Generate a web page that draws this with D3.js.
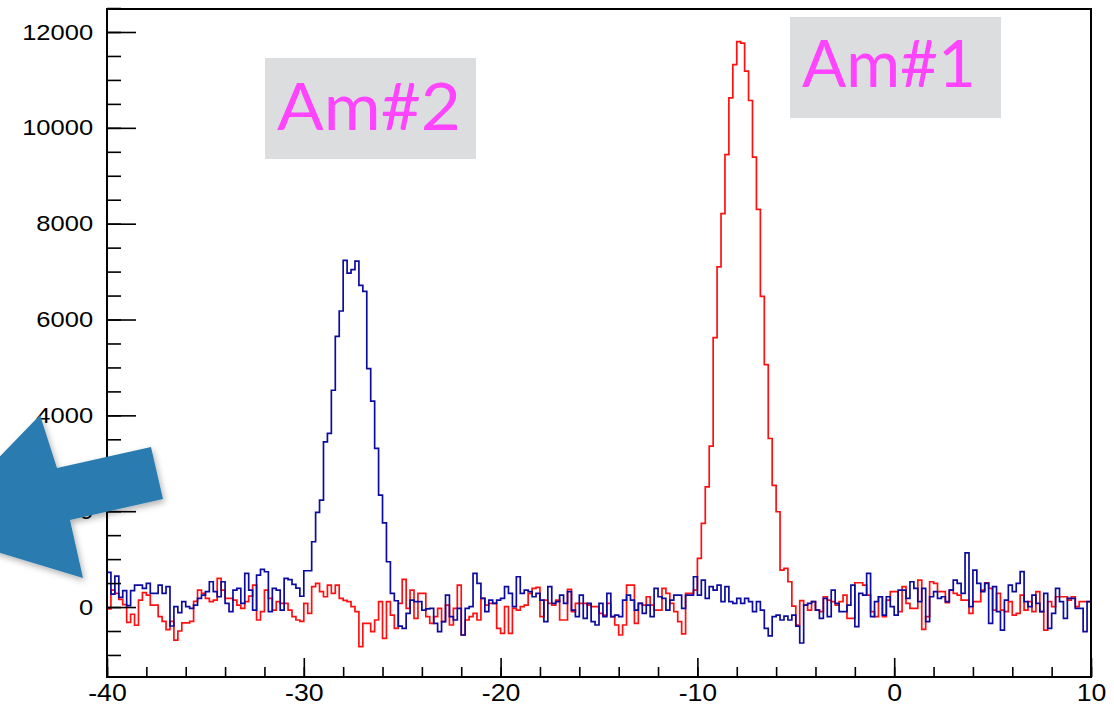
<!DOCTYPE html>
<html>
<head>
<meta charset="utf-8">
<script src="https://cdn.jsdelivr.net/npm/d3@7"></script>
<style>
  body { margin: 0; background: #fff; }
  svg { display: block; }
</style>
</head>
<body>
<div id="chart"></div>
<script>
// histogram contents, 250 bins from -40 to 10 (bin width 0.2)
const blueCounts = [
  723, 271, 646, 202, 341, 28, 341, 459, 459, 389,
  493, 285, 285, 459, 285, 424, -396, 7, -118, 111,
  7, -28, 42, 181, 250, 320, 528, 320, 215, 528,
  76, -97, 354, 389, 76, 702, 354, -63, 667, 785,
  736, -97, 389, 354, -63, 598, 570, 475, 395, 225,
  757, 757, 1362, 1975, 2231, 3447, 3622, 4524, 5650, 6178,
  7235, 6970, 7041, 7220, 6714, 6589, 4977, 4295, 3309, 2335,
  1758, 945, 286, 131, -400, -445, -132, 146, 111, 111,
  -63, -40, -28, -341, -514, -306, 250, -202, -271, -28,
  -584, -28, 7, 702, 493, 181, -97, 146, 76, 146,
  181, 424, 285, 7, 632, 285, 354, 320, 215, 285,
  146, -306, 424, 76, 111, 250, 76, 320, -63, -202,
  250, -236, 76, -306, -375, 76, -202, 285, -202, -167,
  -202, 146, 250, 146, -63, 76, -132, 42, -202, 389,
  215, 181, -63, 146, 250, 250, -28, 250, 250, 632,
  250, 563, 181, 424, 354, 459, 111, 424, 111, 76,
  181, 76, 181, 111, -97, 111, -63, -445, -600, -202,
  -167, -271, -188, -271, -167, -400, -750, 42, 76, 111,
  -63, -236, 181, -202, 354, 76, -97, -97, 42, 459,
  -410, 285, 250, 702, -202, 111, 215, -167, 215, 7,
  -167, 354, 354, 181, 528, 389, 111, 389, -306, 215,
  320, 181, 215, 111, 354, 563, 493, 285, 1132, 7,
  771, 493, 320, 493, -341, 424, -97, -480, 146, 459,
  320, 493, 737, 111, 7, 250, 76, -97, 285, -445,
  -132, 389, 111, -236, 181, 181, -28, -28, -514, 111
];

const redCounts = [
  -40, 354, 285, 160, 50, -320, -150, -380, 146, 300,
  250, 40, 42, -200, -300, -470, -300, -690, -500, -330,
  -330, -300, 120, 354, 285, 181, 111, 146, 600, 354,
  181, 181, 146, 42, -28, 111, 229, 459, -271, -97,
  354, 181, -63, 111, 76, 76, -63, -202, -271, -300,
  76, -132, 424, 493, 320, 215, 459, 285, 459, 181,
  140, 111, 7, -97, -827, -341, -341, -514, -271, 111,
  -653, 111, -167, -445, 76, 577, -28, 354, -236, 285,
  285, -202, -341, -202, -28, -306, 42, -375, -28, 459,
  -584, -271, -202, -132, -271, 181, 42, 76, 76, -445,
  -549, 7, -549, -28, -63, 7, 42, 285, 389, 410,
  -202, 146, 76, 42, 146, -271, -271, 368, -97, 76,
  76, 76, 42, 7, 7, -132, -167, 76, -202, -375,
  -584, -375, 459, 459, -341, 76, 42, 215, 42, -63,
  -63, 389, 285, 76, -97, -306, -560, 285, 285, 354,
  1014, 1744, 2509, 3357, 5623, 7097, 8208, 9439, 10627, 11321,
  11801, 11766, 11182, 10571, 9389, 8298, 6484, 5059, 3517, 2537,
  1988, 772, 807, 528, 21, -375, 132, 42, -63, 111,
  -63, -97, 215, 146, 111, 42, 111, 250, -236, -236,
  507, 507, 459, 250, -97, -202, 215, -202, 146, 320,
  320, -97, 424, 76, -28, -28, 563, -466, -202, 528,
  493, 320, 320, 90, 354, 285, 250, 146, 146, -132,
  111, 111, 354, 507, 389, -63, 285, -63, -97, 111,
  -167, -132, 250, -63, 111, -97, 320, -97, -480, 111,
  7, 215, 215, 215, 146, 215, 7, 111, 111, 111
];

const xRange = [-40, 10];
const yRange = [-1460, 12480];
const xMajorTicks = [-40, -30, -20, -10, 0, 10];
const xMinorTicks = d3.range(-40, 10.001, 2);
const yMajorTicks = [0, 2000, 4000, 6000, 8000, 10000, 12000];
const yMinorTicks = d3.range(-1000, 12500.1, 500);
const tagLabels = ["Am#2", "Am#1"];

const width = 1114, height = 705;
const frame = { left: 107, right: 1091, top: 9, bottom: 677 };

const svg = d3.select("#chart").append("svg")
  .attr("width", width)
  .attr("height", height);

const x = d3.scaleLinear().domain(xRange).range([frame.left, frame.right]);
const y = d3.scaleLinear().domain(yRange).range([frame.bottom, frame.top]);

const defs = svg.append("defs");
defs.append("clipPath").attr("id", "plotclip")
  .append("rect")
  .attr("x", frame.left).attr("y", frame.top)
  .attr("width", frame.right - frame.left)
  .attr("height", frame.bottom - frame.top);

// step outline for a histogram, closed down to the frame bottom at both ends
const binW = (xRange[1] - xRange[0]) / blueCounts.length;
function histPoints(counts) {
  const pts = [[xRange[0], yRange[0]]];
  counts.forEach((v, i) => pts.push([xRange[0] + i * binW, v]));
  pts.push([xRange[1], counts[counts.length - 1]]);
  pts.push([xRange[1], yRange[0]]);
  return pts;
}
const stepLine = d3.line()
  .x(d => x(d[0]))
  .y(d => y(d[1]))
  .curve(d3.curveStepAfter);

const hist = svg.append("g").attr("clip-path", "url(#plotclip)");
hist.append("path")
  .attr("d", stepLine(histPoints(redCounts)))
  .attr("fill", "none")
  .attr("stroke", "#ff1010")
  .attr("stroke-width", 1.7);
hist.append("path")
  .attr("d", stepLine(histPoints(blueCounts)))
  .attr("fill", "none")
  .attr("stroke", "#0c0ca0")
  .attr("stroke-width", 1.7);

// axes (ticks point inwards like ROOT), plain hyphen for negatives
const fontFam = "'Liberation Sans', Arial, Helvetica, sans-serif";
const fmt = d => String(d);

const yMinorAxis = d3.axisLeft(y).tickValues(yMinorTicks).tickSize(-14).tickFormat("");
const yMajorAxis = d3.axisLeft(y).tickValues(yMajorTicks).tickSize(-29).tickPadding(12).tickFormat(fmt);
const xMinorAxis = d3.axisBottom(x).tickValues(xMinorTicks).tickSize(-10).tickFormat("");
const xMajorAxis = d3.axisBottom(x).tickValues(xMajorTicks).tickSize(-19).tickPadding(8).tickFormat(fmt);

function styleAxis(g) {
  g.select(".domain").remove();
  g.selectAll("line").attr("stroke", "#000").attr("stroke-width", 1.6);
  g.selectAll("text")
    .attr("fill", "#000")
    .style("font-family", fontFam);
}

svg.append("g").attr("transform", `translate(${frame.left},0)`).call(yMinorAxis).call(styleAxis);
const yAx = svg.append("g").attr("transform", `translate(${frame.left},0)`).call(yMajorAxis).call(styleAxis);
yAx.selectAll("text")
  .style("font-size", "22px")
  .attr("x", -12)
  .attr("transform", "scale(1.16,1)");

svg.append("g").attr("transform", `translate(0,${frame.bottom})`).call(xMinorAxis).call(styleAxis);
const xAx = svg.append("g").attr("transform", `translate(0,${frame.bottom})`).call(xMajorAxis).call(styleAxis);
xAx.selectAll("text")
  .style("font-size", "23px")
  .attr("transform", "scale(1.16,1)");

// frame
svg.append("rect")
  .attr("x", frame.left).attr("y", frame.top)
  .attr("width", frame.right - frame.left)
  .attr("height", frame.bottom - frame.top)
  .attr("fill", "none")
  .attr("stroke", "#000")
  .attr("stroke-width", 2);

// peak tags
const tagBoxes = [
  { x: 265, y: 58, w: 211, h: 101, tx: 277, ty: 130, tw: 184 },
  { x: 790, y: 17, w: 211, h: 101, tx: 802, ty: 87, tw: 174 }
];
tagBoxes.forEach((b, i) => {
  svg.append("rect")
    .attr("x", b.x).attr("y", b.y)
    .attr("width", b.w).attr("height", b.h)
    .attr("fill", "#dcdddf");
  svg.append("text")
    .attr("x", b.tx).attr("y", b.ty)
    .attr("fill", "#ff44ff")
    .attr("textLength", b.tw)
    .attr("lengthAdjust", "spacingAndGlyphs")
    .style("font-family", "Lato, 'Open Sans', sans-serif")
    .style("font-size", "66px")
    .text(tagLabels[i]);
});

// big blue arrow over the left axis
const shadow = defs.append("filter").attr("id", "shadow")
  .attr("x", "-20%").attr("y", "-20%").attr("width", "140%").attr("height", "140%");
shadow.append("feDropShadow")
  .attr("dx", 2).attr("dy", 3)
  .attr("stdDeviation", 3)
  .attr("flood-color", "#000")
  .attr("flood-opacity", 0.3);

const arrowPts = [[-72, 531], [40, 415], [57, 468], [151, 447], [163, 499], [70, 520], [83, 578]];
svg.append("path")
  .attr("d", d3.line()(arrowPts) + "Z")
  .attr("fill", "#2c7cb0")
  .attr("filter", "url(#shadow)");
</script>
</body>
</html>
